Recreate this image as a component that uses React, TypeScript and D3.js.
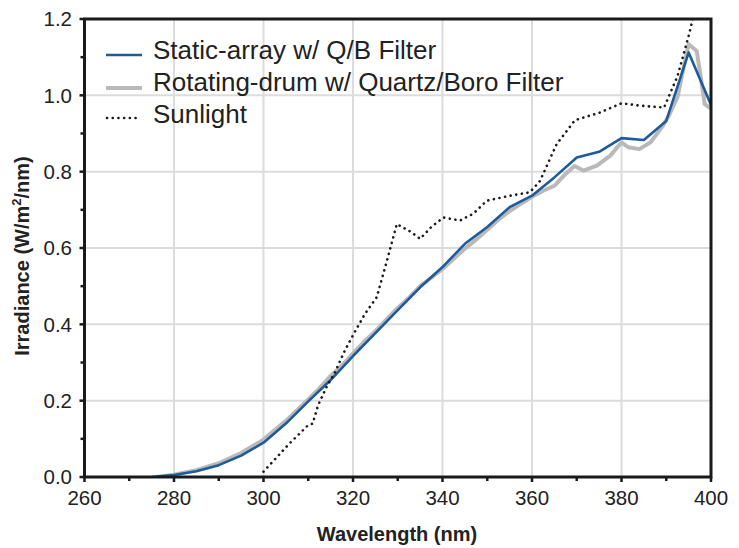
import React from "react";
import * as d3 from "d3";

const staticWl = [275, 280, 285, 290, 295, 300, 305, 310, 315, 320, 325, 330, 335, 340, 345, 350, 355, 360, 365, 370, 375, 380, 385, 390, 395, 400];
const staticVal = [0.0, 0.005, 0.015, 0.031, 0.056, 0.09, 0.14, 0.198, 0.254, 0.317, 0.377, 0.437, 0.497, 0.55, 0.611, 0.655, 0.707, 0.737, 0.785, 0.837, 0.852, 0.888, 0.883, 0.933, 1.112, 0.975];

const drumWl = [276, 280, 285, 290, 295, 300, 305, 310, 312.5, 315, 317.5, 320, 322.5, 325, 327.5, 330, 332.5, 335, 337.5, 340, 342.5, 345, 347.5, 350, 352.5, 355, 357.5, 360, 362.5, 365, 367.5, 369.5, 371.5, 374.5, 377.5, 380, 381.5, 384, 386.5, 389, 390.5, 392.5, 395, 396.8, 397.5, 398.6, 400];
const drumVal = [0.0, 0.006, 0.018, 0.036, 0.063, 0.098, 0.147, 0.203, 0.232, 0.265, 0.292, 0.323, 0.355, 0.382, 0.413, 0.443, 0.47, 0.5, 0.522, 0.545, 0.572, 0.598, 0.622, 0.648, 0.674, 0.697, 0.716, 0.734, 0.75, 0.763, 0.794, 0.815, 0.803, 0.816, 0.842, 0.877, 0.864, 0.859, 0.877, 0.916, 0.945, 0.995, 1.134, 1.116, 1.064, 0.977, 0.965];

const sunWl = [300, 305.5, 310, 311, 312.2, 314.1, 316, 318.2, 320.4, 322.7, 325.3, 327.5, 329.8, 333.1, 335, 337.5, 340.2, 343.9, 346.9, 349.9, 355.1, 359.5, 361.8, 365.5, 369.6, 375.2, 380, 384.1, 389.5, 392.5, 394.9, 397];
const sunVal = [0.014, 0.084, 0.136, 0.14, 0.188, 0.236, 0.275, 0.332, 0.38, 0.428, 0.471, 0.563, 0.663, 0.641, 0.624, 0.655, 0.68, 0.672, 0.69, 0.724, 0.737, 0.746, 0.776, 0.872, 0.935, 0.955, 0.979, 0.973, 0.968, 1.05, 1.151, 1.25];

const xTicks = [260, 280, 300, 320, 340, 360, 380, 400];
const xMinor = [270, 290, 310, 330, 350, 370, 390];
const yTicks = [0.0, 0.2, 0.4, 0.6, 0.8, 1.0, 1.2];
const yMinor = [0.1, 0.3, 0.5, 0.7, 0.9, 1.1];

const legendLabels = ["Static-array w/ Q/B Filter", "Rotating-drum w/ Quartz/Boro Filter", "Sunlight"];

const W = 739;
const H = 548;
const L = 84.5, R = 711, T = 19, B = 477;

export default function App() {
  const x = d3.scaleLinear().domain([260, 400]).range([L, R]);
  const y = d3.scaleLinear().domain([0, 1.2]).range([B, T]);
  const line = d3
    .line<[number, number]>()
    .x((d) => x(d[0]))
    .y((d) => y(d[1]));
  const zip = (a: number[], b: number[]) => a.map((v, i) => [v, b[i]] as [number, number]);

  const blue = "#1d5b9c";
  const gray = "#b9b9b9";
  const dark = "#1a1a1a";
  const font = "'Liberation Sans', Arial, Helvetica, sans-serif";

  return (
    <svg width={W} height={H} style={{ position: "absolute", left: 0, top: 0, background: "#fff" }} fontFamily={font}>
      <defs>
        <clipPath id="plot">
          <rect x={L} y={T} width={R - L} height={B - T} />
        </clipPath>
      </defs>
      {/* gridlines */}
      {xTicks.slice(1, -1).map((t) => (
        <line key={"gx" + t} x1={x(t)} x2={x(t)} y1={T} y2={B} stroke="#dcdcdc" strokeWidth={2} />
      ))}
      {yTicks.slice(1, -1).map((t) => (
        <line key={"gy" + t} x1={L} x2={R} y1={y(t)} y2={y(t)} stroke="#dcdcdc" strokeWidth={2} />
      ))}
      {/* series */}
      <g clipPath="url(#plot)" fill="none" strokeLinejoin="round">
        <path d={line(zip(drumWl, drumVal)) || ""} stroke={gray} strokeWidth={4} />
        <path d={line(zip(staticWl, staticVal)) || ""} stroke={blue} strokeWidth={2.6} />
        <path
          d={line(zip(sunWl, sunVal)) || ""}
          stroke={dark}
          strokeWidth={2.6}
          strokeDasharray="0.1,5.6"
          strokeLinecap="round"
        />
      </g>
      {/* frame */}
      <rect x={L} y={T} width={R - L} height={B - T} fill="none" stroke={dark} strokeWidth={3} />
      {/* ticks */}
      {xTicks.map((t) => (
        <line key={"tx" + t} x1={x(t)} x2={x(t)} y1={B} y2={B + 5} stroke={dark} strokeWidth={2.5} />
      ))}
      {xMinor.map((t) => (
        <line key={"mx" + t} x1={x(t)} x2={x(t)} y1={B} y2={B + 4} stroke={dark} strokeWidth={2.5} />
      ))}
      {yTicks.map((t) => (
        <line key={"ty" + t} x1={L - 5} x2={L} y1={y(t)} y2={y(t)} stroke={dark} strokeWidth={2.5} />
      ))}
      {yMinor.map((t) => (
        <line key={"my" + t} x1={L - 4} x2={L} y1={y(t)} y2={y(t)} stroke={dark} strokeWidth={2.5} />
      ))}
      {/* tick labels */}
      {xTicks.map((t) => (
        <text key={"lx" + t} x={x(t)} y={505} textAnchor="middle" fontSize={20.5} fill="#222">
          {t}
        </text>
      ))}
      {yTicks.map((t) => (
        <text key={"ly" + t} x={72} y={y(t)} dy="0.36em" textAnchor="end" fontSize={20.5} fill="#222">
          {t.toFixed(1)}
        </text>
      ))}
      {/* axis titles */}
      <text x={397} y={541} textAnchor="middle" fontSize={20} fontWeight="bold" fill="#222">
        Wavelength (nm)
      </text>
      <text
        transform={`translate(29,${(T + B) / 2 + 8}) rotate(-90)`}
        textAnchor="middle"
        fontSize={20}
        fontWeight="bold"
        fill="#222"
      >
        Irradiance (W/m<tspan dy="-8" fontSize={13}>2</tspan>
        <tspan dy="8">/nm)</tspan>
      </text>
      {/* legend */}
      <line x1={106} x2={142} y1={55} y2={55} stroke={blue} strokeWidth={2.6} />
      <line x1={106} x2={142} y1={88} y2={88} stroke={gray} strokeWidth={4} />
      <line
        x1={107}
        x2={139}
        y1={118}
        y2={118}
        stroke={dark}
        strokeWidth={2.6}
        strokeDasharray="0.1,5.6"
        strokeLinecap="round"
      />
      {legendLabels.map((lab, i) => (
        <text key={lab} x={153} y={[59, 91, 123][i]} fontSize={26} fill="#222">
          {lab}
        </text>
      ))}
    </svg>
  );
}
